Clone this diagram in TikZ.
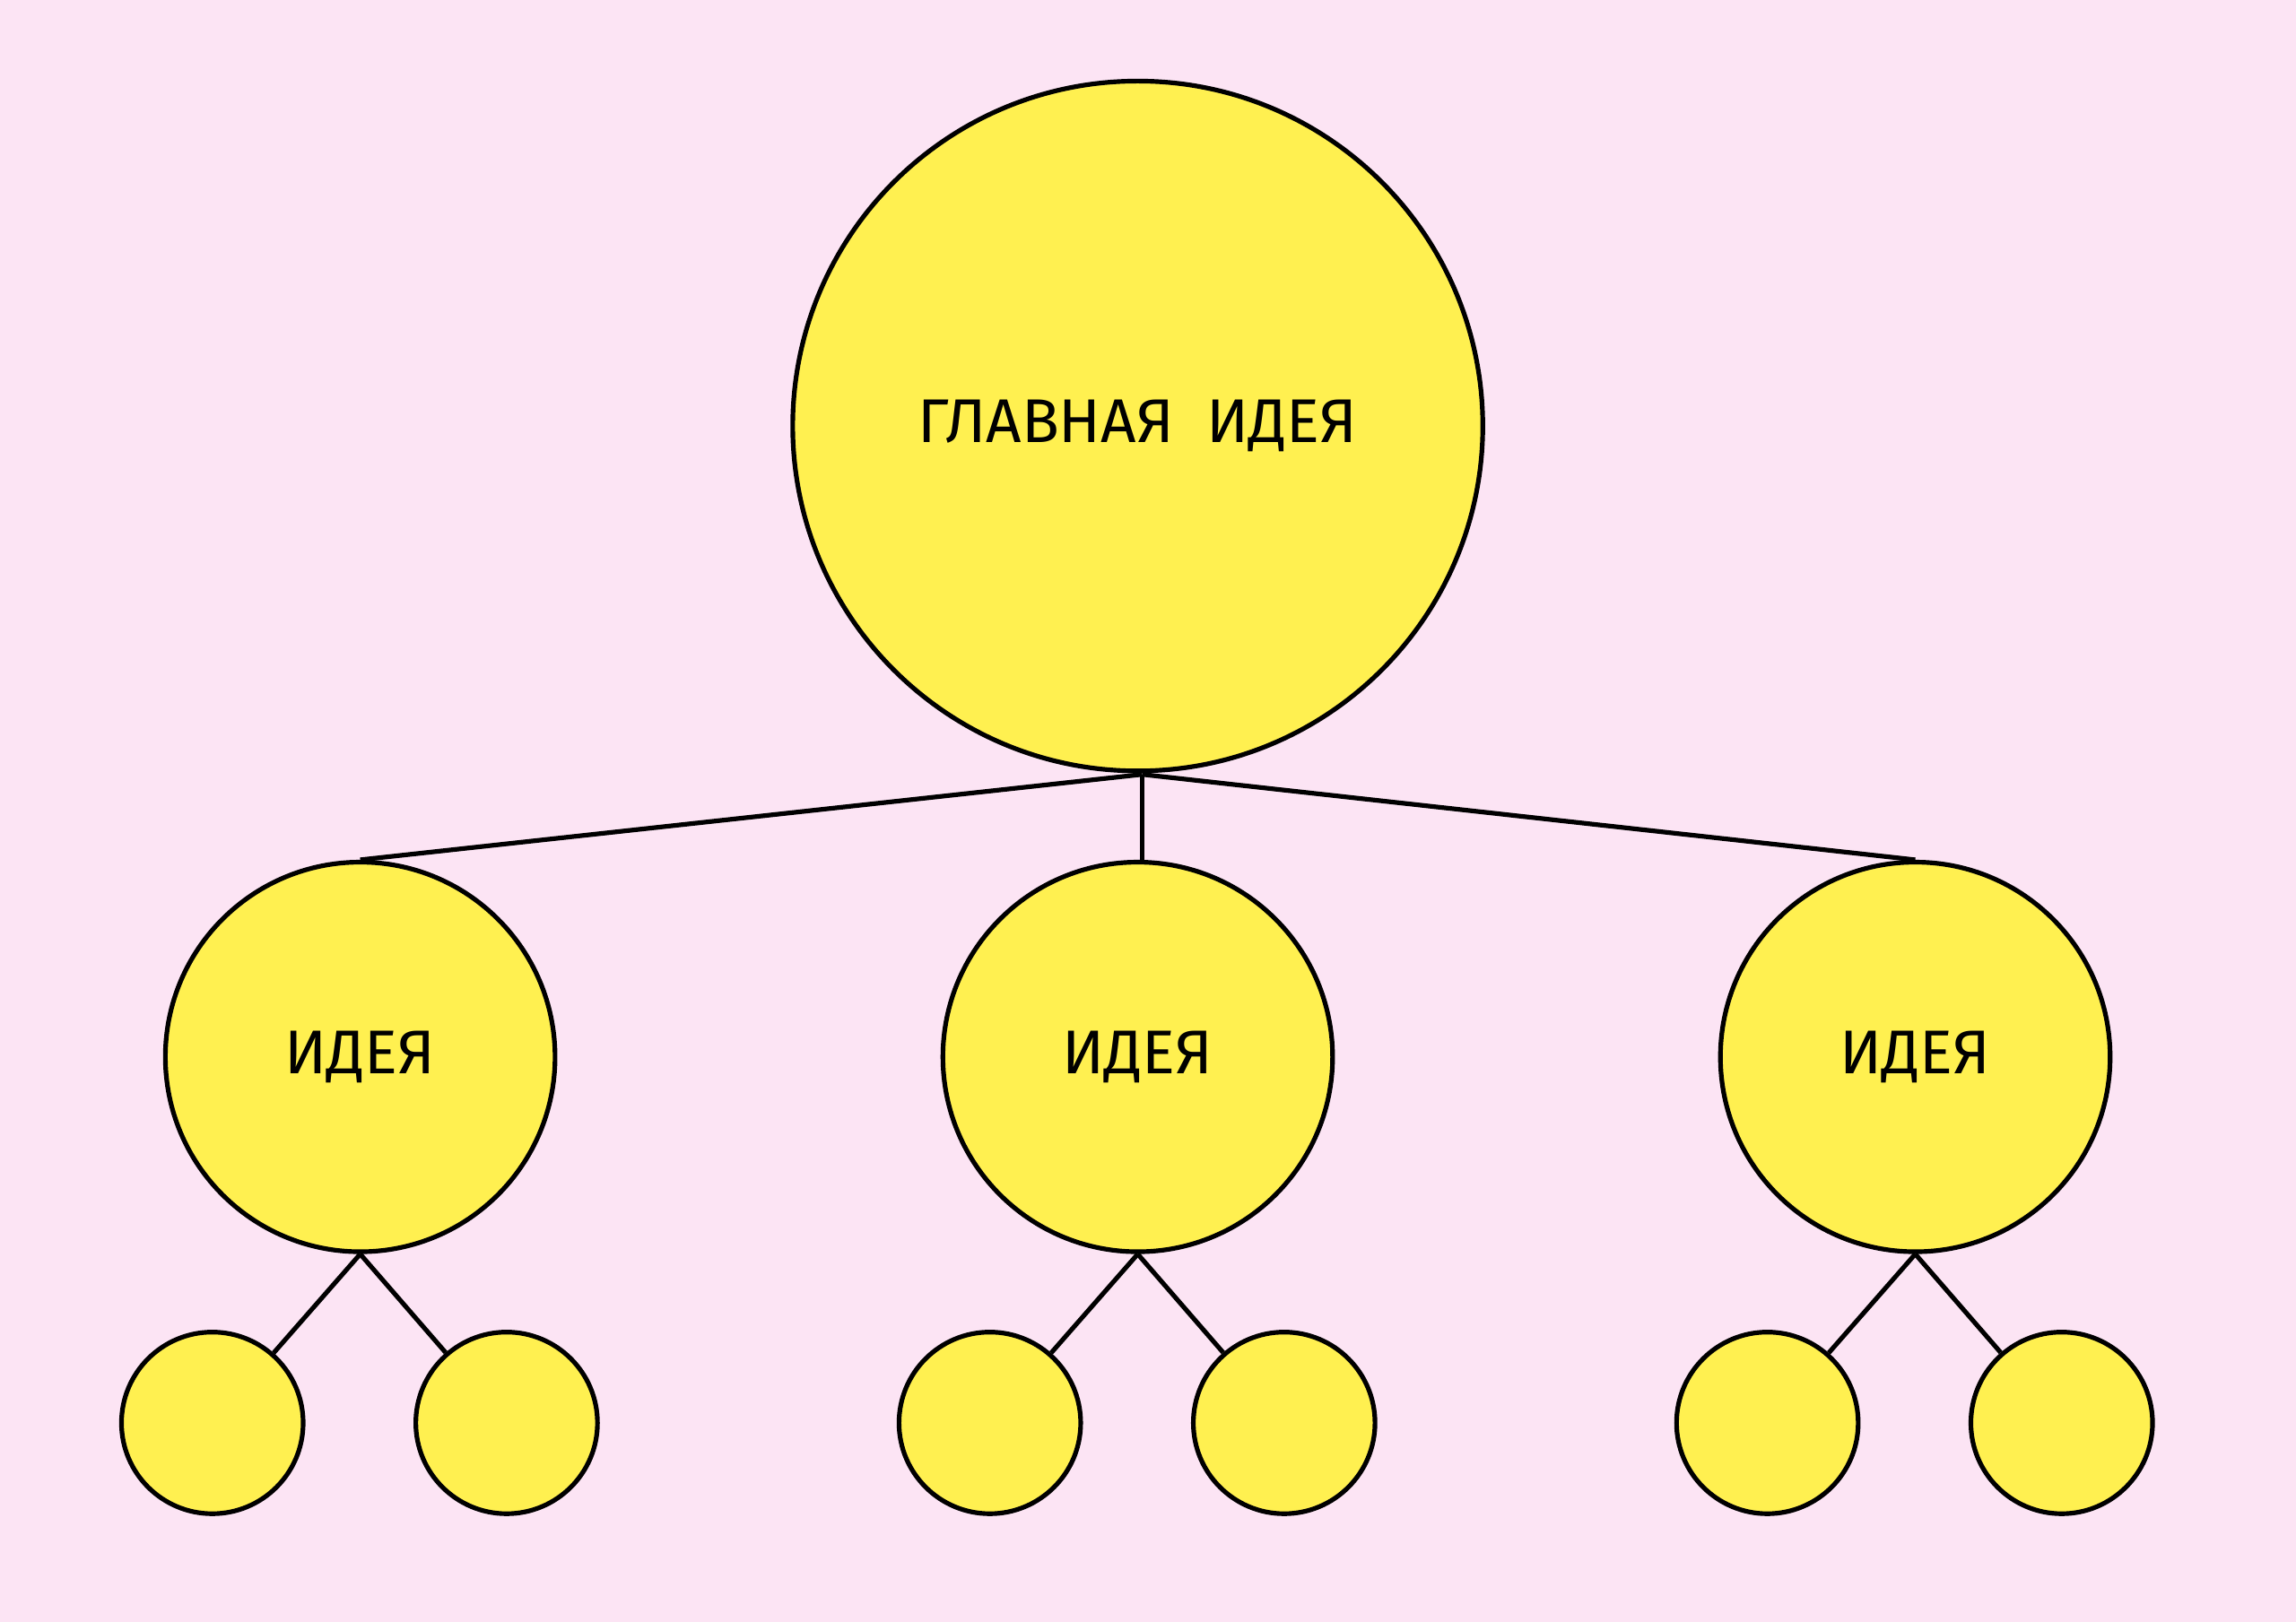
\documentclass[tikz,border=0pt]{standalone}
\usepackage{fontspec}
\setmainfont{Fira Sans}
\definecolor{bg}{HTML}{FCE4F4}
\definecolor{yel}{HTML}{FFF050}
\begin{document}
\begin{tikzpicture}[x=0.01cm,y=-0.01cm,
  bub/.style={circle,draw=black,fill=yel,line width=0.9pt,inner sep=0pt,font=\fontsize{12}{14}\selectfont},
  ln/.style={line width=0.9pt}]
\fill[bg] (0,0) rectangle (1568,1108);
\useasboundingbox (0,0) rectangle (1568,1108);
\node[bub,minimum size=4.71cm] (main) at (777,291) {ГЛАВНАЯ\ \ ИДЕЯ};
\node[bub,minimum size=2.66cm] (m1) at (246,722) {ИДЕЯ};
\node[bub,minimum size=2.66cm] (m2) at (777,722) {ИДЕЯ};
\node[bub,minimum size=2.66cm] (m3) at (1308,722) {ИДЕЯ};
\foreach \n/\x in {s1/145,s2/346,s3/676,s4/877,s5/1207,s6/1408}
  \node[bub,minimum size=1.24cm] (\n) at (\x,972) {};
\coordinate (hub) at (780,529);
\draw[ln] (hub) -- (m1.north);
\draw[ln] (hub) -- (780,588);
\draw[ln] (hub) -- (m3.north);
\draw[ln] (m1.south) -- (s1); \draw[ln] (m1.south) -- (s2);
\draw[ln] (m2.south) -- (s3); \draw[ln] (m2.south) -- (s4);
\draw[ln] (m3.south) -- (s5); \draw[ln] (m3.south) -- (s6);
\end{tikzpicture}
\end{document}
